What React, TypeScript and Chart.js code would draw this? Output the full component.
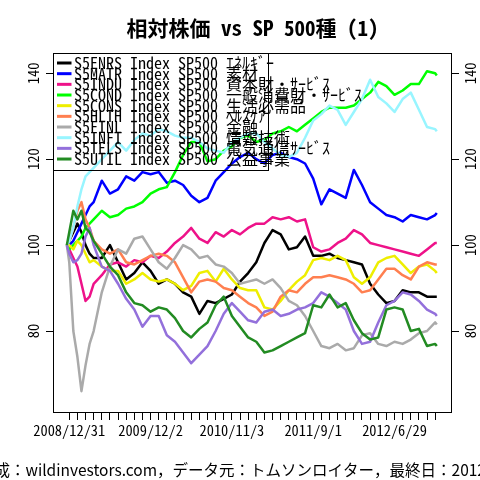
import { useEffect, useRef } from "react";
import { Chart, registerables, Plugin, ChartConfiguration } from "chart.js";

Chart.register(...registerables);

const FONT = "'Noto Sans Mono CJK JP', 'Noto Sans CJK JP', monospace";
const FONT_PROP = "'Noto Sans CJK JP', sans-serif";

const TITLE = "相対株価 vs SP 500種 (1)";
const FOOTER = "作成：wildinvestors.com，データ元：トムソンロイター，最終日：2012/12/14";

// x positions in units of axis ticks (one tick ~ 23 trading days)
const X_POS = [
  -0.3, 0, 0.5, 1, 1.5, 2, 2.5, 3, 4, 5, 6, 7, 8, 9, 10, 11, 12, 13, 14, 15, 16,
  17, 18, 19, 20, 21, 22, 23, 24, 25, 26, 27, 28, 29, 30, 31, 32, 33, 34, 35, 36,
  37, 38, 39, 40, 41, 42, 43, 44, 45, 45.2,
];
const X_TICK_COUNT = 46;
const LABEL_EVERY = 10;
const X_LABELS = ["2008/12/31", "2009/12/2", "2010/11/3", "2011/9/1", "2012/6/29"];
const Y_TICKS = [80, 100, 120, 140];

const SERIES_LABELS = [
  "S5ENRS Index SP500 ｴﾈﾙｷﾞｰ",
  "S5MATR Index SP500 素材",
  "S5INDU Index SP500 資本財・ｻｰﾋﾞｽ",
  "S5COND Index SP500 一般消費財・ｻｰﾋﾞｽ",
  "S5CONS Index SP500 生活必需品",
  "S5HLTH Index SP500 ﾍﾙｽｹｱ",
  "S5FINL Index SP500 金融",
  "S5INFT Index SP500 情報技術",
  "S5TELS Index SP500 電気通信ｻｰﾋﾞｽ",
  "S5UTIL Index SP500 公益事業",
];
const SERIES_COLORS = [
  "#000000", "#0000FF", "#EE1289", "#00FF00", "#EEEE00",
  "#FF7F50", "#AAAAAA", "#98F5FF", "#9370DB", "#228B22",
];

const ENRS = [100, 101, 103, 105, 103, 100, 98, 97,
  97, 100, 96, 92, 93.5, 96, 94, 91, 92, 91,
  89, 88, 84, 87, 86.5, 87.5, 88.5, 91.5, 93.5, 96,
  100.5, 103.5, 102.5, 99, 99.5, 102, 97.5, 97.5, 98, 97,
  96.5, 96, 95.5, 91, 88.5, 86.5, 87, 89.5, 89, 89,
  88, 88, 88];
const MATR = [100, 100, 101, 103, 105, 107, 109, 110,
  115, 112, 113, 116, 115, 117, 116.5, 117, 114.5, 115,
  114, 111.5, 110, 111, 115, 117, 119, 120.5, 121.5, 120,
  119, 121, 121.5, 120.5, 120, 119, 115.5, 109.5, 113, 112,
  111, 117.5, 114, 110, 108.5, 107, 106.5, 105.5, 107, 106.5,
  106, 107, 107.5];
const INDU = [100, 99, 97, 95, 91, 87, 88, 91,
  93, 95.5, 96, 95, 96.5, 96, 97.5, 97, 98.5, 100.5,
  102, 104, 101.5, 100.5, 103, 102, 103.5, 102.5, 104, 105,
  105, 106.5, 106, 106.5, 105.5, 106, 99.5, 98.5, 99, 100.5,
  101.5, 103.5, 102.5, 100.5, 100, 99.5, 99, 98.5, 98, 97.5,
  99, 100.5, 100.5];
const COND = [100, 99, 100, 101, 102, 104, 105, 106,
  108, 106.5, 107, 108.5, 109, 110, 112, 113, 113.5, 117,
  121, 124, 124, 119.5, 120, 122, 123, 125, 125.5, 124,
  124.5, 126, 126.5, 127.5, 126.5, 128, 129.5, 131, 132, 132,
  132, 132.5, 134, 135.5, 138, 137, 135, 136, 137.5, 137.5,
  140.5, 140, 139.5];
const CONS = [100, 100, 99, 101, 100, 98, 96, 96.5,
  95, 94, 94, 91, 92, 93.5, 92, 91.5, 92, 91,
  89.5, 90.5, 93.5, 94, 91.5, 94.5, 92, 90, 89.5, 89.5,
  85.5, 85, 87, 89.5, 91.5, 93, 96.5, 97, 96.5, 97.5,
  96.5, 92.5, 91, 92.5, 96, 97, 97.5, 95.5, 93.5, 95,
  95.5, 94, 93.5];
const HLTH = [100, 101, 104, 108, 110, 106, 104, 101,
  99, 98, 99, 96, 95.5, 96.5, 97.5, 98, 97.5, 96,
  92.5, 89, 91.5, 92, 91.5, 90, 89.5, 88, 86.5, 85.5,
  83.5, 84.5, 88, 89.5, 89, 91, 92.5, 92.5, 93, 92.5,
  92, 91, 89, 89.5, 92, 94.5, 94.5, 93, 92, 95,
  96, 95.5, 95.5];
const FINL = [100, 96, 80, 74, 66, 72, 77, 80,
  89, 95, 99, 98, 101.5, 102, 99, 96, 94.5, 97,
  100, 99, 97, 97.5, 95.5, 95, 93.5, 91, 91.5, 92,
  91, 92, 90, 87, 86, 83.5, 80, 76.5, 76, 77,
  75.5, 76, 79, 79.5, 77, 76.5, 77.5, 77, 78, 79.5,
  80, 82, 81.5];
const INFT = [100, 101, 104, 109, 113, 116, 117, 118,
  120, 122, 124, 122, 124.5, 126, 125.5, 127, 126.5, 125.5,
  125, 125, 124, 122.5, 122, 121.5, 124, 125, 126, 126,
  124, 122.5, 121, 120.5, 121.5, 125, 129, 130.5, 132.5, 131.5,
  128, 131, 134, 138.5, 134.5, 133, 131, 134, 135.5, 131.5,
  127.5, 127, 126.5];
const TELS = [100, 98, 96, 96.5, 98, 102, 104, 100,
  95, 94, 91, 87.5, 85, 81, 83.5, 83.5, 79, 77.5,
  75, 72.5, 74.5, 76.5, 80, 84, 86.5, 84.5, 82.5, 82,
  84.5, 85, 83.5, 84, 85, 85.5, 86.5, 89, 88, 86.5,
  85, 80, 77, 77.5, 82, 86, 87, 89, 88.5, 87,
  85, 84, 83.5];
const UTIL = [100, 103, 108, 106, 108, 104, 103, 101,
  98, 95, 93, 89, 86.5, 86, 84.5, 85.5, 85, 83,
  80, 78.5, 80.5, 82, 86, 88, 83.5, 81, 78.5, 77.5,
  75, 75.5, 76.5, 77.5, 78.5, 79.5, 86, 85.5, 88.5, 85.5,
  86.5, 82.5, 79.5, 78, 78.5, 85, 85.5, 85, 80, 80.5,
  76.5, 77, 76.5];

const SERIES = [ENRS, MATR, INDU, COND, CONS, HLTH, FINL, INFT, TELS, UTIL];

const X_MIN = -2.0;
const X_MAX = 47.07;
const Y_MIN = 60.91;
const Y_MAX = 144.73;

const decorPlugin: Plugin<"line"> = {
  id: "decor",
  afterDatasetsDraw(chart) {
    const { ctx, chartArea: a } = chart;
    ctx.save();
    // legend box (transparent, drawn over the lines)
    const boxRight = 268.5;
    const boxBottom = 170.5;
    ctx.strokeStyle = "#000";
    ctx.lineWidth = 1;
    ctx.strokeRect(a.left + 0.5, a.top + 0.5, boxRight - a.left - 0.5, boxBottom - a.top - 0.5);
    ctx.font = `16px ${FONT}`;
    ctx.textBaseline = "middle";
    ctx.textAlign = "left";
    SERIES_LABELS.forEach((label, i) => {
      const y = a.top + 10 + i * 10.67;
      ctx.strokeStyle = SERIES_COLORS[i];
      ctx.lineWidth = 3;
      ctx.beginPath();
      ctx.moveTo(a.left + 4, y);
      ctx.lineTo(a.left + 18.5, y);
      ctx.stroke();
      ctx.fillStyle = "#000";
      ctx.fillText(label, a.left + 21, y);
    });
    ctx.restore();
  },
  afterDraw(chart) {
    const { ctx, chartArea: a, scales } = chart;
    ctx.save();
    ctx.strokeStyle = "#000";
    ctx.lineWidth = 1;
    ctx.strokeRect(a.left + 0.5, a.top + 0.5, a.right - a.left - 1, a.bottom - a.top - 1);
    ctx.fillStyle = "#000";
    ctx.font = `14.5px ${FONT}`;
    ctx.textAlign = "center";
    ctx.textBaseline = "middle";
    const sides: [string, number][] = [["y", 33.3], ["y2", 470]];
    sides.forEach(([id, x]) => {
      const s = scales[id];
      Y_TICKS.forEach((v) => {
        ctx.save();
        ctx.translate(x, s.getPixelForValue(v));
        ctx.rotate(-Math.PI / 2);
        ctx.fillText(String(v), 0, 0);
        ctx.restore();
      });
    });
    ctx.font = `15.5px ${FONT_PROP}`;
    ctx.textAlign = "left";
    ctx.fillText(FOOTER, -21, 470);
    ctx.restore();
  },
};

export default function App() {
  const canvasRef = useRef<HTMLCanvasElement>(null);

  useEffect(() => {
    if (!canvasRef.current) return;

    const yScale = (position: "left" | "right", width: number) => ({
      type: "linear" as const,
      position,
      min: Y_MIN,
      max: Y_MAX,
      afterBuildTicks: (s: any) => {
        s.ticks = Y_TICKS.map((v) => ({ value: v }));
      },
      afterFit: (s: any) => {
        s.width = width;
      },
      grid: { drawOnChartArea: false, drawTicks: true, tickLength: 7, color: "#000" },
      border: { display: false },
      ticks: { display: false },
    });

    const config: ChartConfiguration<"line"> = {
      type: "line",
      data: {
        datasets: SERIES.map((vals, i) => ({
          label: SERIES_LABELS[i],
          data: X_POS.map((x, j) => ({ x, y: vals[j] })),
          borderColor: SERIES_COLORS[i],
          borderWidth: 2.5,
          borderJoinStyle: "round",
          pointRadius: 0,
          tension: 0,
          fill: false,
          order: SERIES.length - i,
          yAxisID: "y",
        })),
      },
      options: {
        responsive: false,
        animation: false,
        events: [],
        layout: { padding: 0 },
        scales: {
          x: {
            type: "linear",
            position: "bottom",
            min: X_MIN,
            max: X_MAX,
            afterBuildTicks: (s: any) => {
              s.ticks = Array.from({ length: X_TICK_COUNT }, (_, i) => ({ value: i }));
            },
            afterFit: (s: any) => {
              s.height = 67;
            },
            grid: { drawOnChartArea: false, drawTicks: true, tickLength: 7, color: "#000" },
            border: { display: false },
            ticks: {
              autoSkip: false,
              maxRotation: 0,
              minRotation: 0,
              padding: 2,
              color: "#000",
              font: { family: FONT, size: 14.4 },
              callback: (_v, i) =>
                i % LABEL_EVERY === 0 ? X_LABELS[i / LABEL_EVERY] ?? "" : "",
            },
          },
          y: yScale("left", 53),
          y2: yScale("right", 28),
        },
        plugins: {
          legend: { display: false },
          tooltip: { enabled: false },
          title: {
            display: true,
            fullSize: false,
            text: TITLE,
            color: "#000",
            font: { family: FONT, size: 21, weight: "bold", lineHeight: 1.2 },
            padding: { top: 15.4, bottom: 12.4 },
          },
        },
      },
      plugins: [decorPlugin],
    };

    const chart = new Chart(canvasRef.current, config);
    return () => chart.destroy();
  }, []);

  return (
    <div style={{ position: "fixed", left: 0, top: 0, width: 480, height: 480, background: "#fff" }}>
      <canvas ref={canvasRef} width={480} height={480} />
    </div>
  );
}
